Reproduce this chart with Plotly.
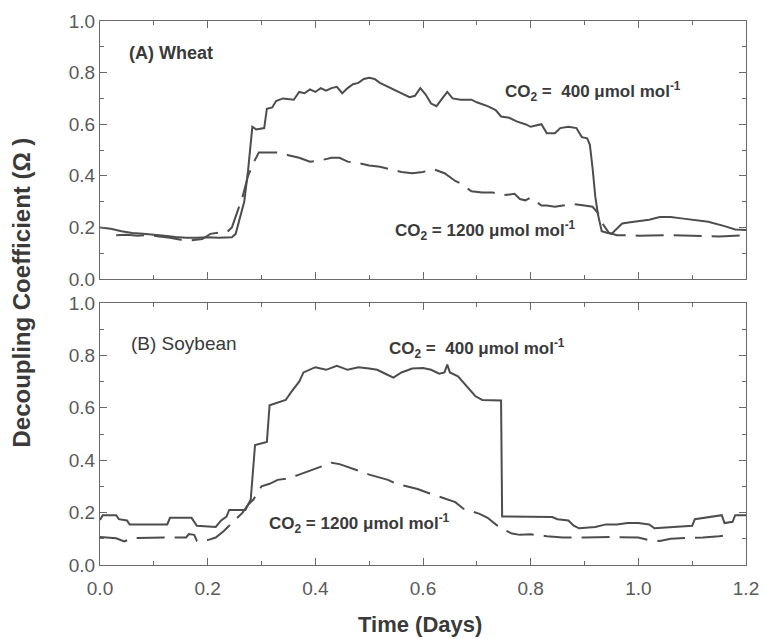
import plotly.graph_objects as go

# ---- Wheat, CO2 = 400 umol/mol (solid) ----
wheat_400_t = [0.00, 0.02, 0.04, 0.06, 0.08, 0.10, 0.12, 0.14, 0.16, 0.18, 0.20, 0.22, 0.245,
               0.252, 0.26, 0.268, 0.275, 0.283, 0.29, 0.305, 0.31, 0.32, 0.327, 0.34, 0.36,
               0.37, 0.38, 0.39, 0.40, 0.41, 0.42, 0.43, 0.44, 0.45, 0.46, 0.47, 0.48, 0.49,
               0.50, 0.51, 0.52, 0.54, 0.56, 0.575, 0.585, 0.595, 0.605, 0.615, 0.625, 0.635,
               0.645, 0.655, 0.67, 0.69, 0.70, 0.72, 0.735, 0.745, 0.76, 0.775, 0.79, 0.80,
               0.81, 0.82, 0.83, 0.845, 0.855, 0.87, 0.885, 0.89, 0.895, 0.905, 0.91, 0.915,
               0.92, 0.925, 0.932, 0.94, 0.95, 0.96, 0.97, 0.985, 1.00, 1.02, 1.04, 1.06,
               1.08, 1.10, 1.13, 1.16, 1.18, 1.20]
wheat_400_v = [0.200, 0.195, 0.185, 0.178, 0.175, 0.172, 0.168, 0.163, 0.160, 0.160, 0.162,
               0.160, 0.162, 0.175, 0.24, 0.30, 0.42, 0.59, 0.58, 0.585, 0.66, 0.665, 0.69,
               0.70, 0.695, 0.725, 0.72, 0.735, 0.725, 0.74, 0.73, 0.74, 0.745, 0.72, 0.74,
               0.755, 0.76, 0.775, 0.78, 0.775, 0.76, 0.74, 0.72, 0.705, 0.71, 0.74, 0.715,
               0.68, 0.67, 0.70, 0.725, 0.70, 0.695, 0.695, 0.685, 0.67, 0.655, 0.63, 0.625,
               0.61, 0.60, 0.59, 0.595, 0.60, 0.565, 0.565, 0.585, 0.59, 0.585, 0.565, 0.55,
               0.545, 0.52, 0.43, 0.32, 0.25, 0.185, 0.18, 0.175, 0.195, 0.215, 0.22, 0.225,
               0.23, 0.24, 0.24, 0.235, 0.23, 0.222, 0.205, 0.192, 0.19]

# ---- Wheat, CO2 = 1200 umol/mol (dashed) ----
wheat_1200_t = [0.03, 0.05, 0.07, 0.09, 0.11, 0.13, 0.15, 0.17, 0.19, 0.20, 0.205, 0.222,
                0.235, 0.245, 0.255, 0.265, 0.275, 0.285, 0.295, 0.31, 0.33, 0.35, 0.37,
                0.39, 0.41, 0.43, 0.445, 0.46, 0.48, 0.50, 0.52, 0.54, 0.56, 0.58, 0.60,
                0.62, 0.64, 0.66, 0.67, 0.69, 0.71, 0.73, 0.75, 0.77, 0.78, 0.79, 0.80,
                0.81, 0.82, 0.83, 0.845, 0.86, 0.88, 0.90, 0.915, 0.925, 0.935, 0.945,
                0.96, 0.98, 1.00, 1.05, 1.10, 1.15, 1.20]
wheat_1200_v = [0.170, 0.172, 0.168, 0.170, 0.165, 0.160, 0.152, 0.150, 0.155, 0.170, 0.175,
                0.180, 0.180, 0.20, 0.26, 0.32, 0.40, 0.45, 0.49, 0.49, 0.49, 0.48, 0.47,
                0.455, 0.46, 0.47, 0.47, 0.455, 0.45, 0.44, 0.435, 0.425, 0.415, 0.41, 0.415,
                0.425, 0.41, 0.38, 0.37, 0.34, 0.335, 0.335, 0.325, 0.33, 0.31, 0.305, 0.315,
                0.30, 0.285, 0.285, 0.28, 0.285, 0.29, 0.285, 0.28, 0.255, 0.21, 0.18, 0.17,
                0.17, 0.168, 0.17, 0.168, 0.165, 0.17]

# ---- Soybean, CO2 = 400 umol/mol (solid) ----
soy_400_t = [0.00, 0.005, 0.03, 0.035, 0.05, 0.055, 0.125, 0.13, 0.17, 0.18, 0.215, 0.225,
             0.235, 0.24, 0.27, 0.28, 0.288, 0.30, 0.31, 0.315, 0.33, 0.345, 0.355, 0.37,
             0.378, 0.39, 0.40, 0.42, 0.44, 0.46, 0.48, 0.50, 0.515, 0.53, 0.545, 0.56, 0.58,
             0.60, 0.615, 0.63, 0.64, 0.645, 0.65, 0.665, 0.68, 0.697, 0.71, 0.745, 0.747,
             0.84, 0.85, 0.87, 0.88, 0.89, 0.92, 0.94, 0.96, 0.98, 1.00, 1.02, 1.03, 1.06,
             1.10, 1.105, 1.14, 1.155, 1.16, 1.175, 1.18, 1.20]
soy_400_v = [0.172, 0.19, 0.19, 0.175, 0.17, 0.155, 0.155, 0.18, 0.18, 0.15, 0.145, 0.17,
             0.185, 0.21, 0.21, 0.25, 0.458, 0.465, 0.47, 0.61, 0.62, 0.63, 0.66, 0.70,
             0.735, 0.745, 0.755, 0.745, 0.76, 0.745, 0.755, 0.75, 0.745, 0.73, 0.715, 0.735,
             0.75, 0.752, 0.745, 0.73, 0.735, 0.765, 0.735, 0.72, 0.685, 0.645, 0.63, 0.628,
             0.185, 0.183, 0.175, 0.17, 0.15, 0.14, 0.145, 0.155, 0.155, 0.16, 0.16, 0.155,
             0.14, 0.145, 0.15, 0.175, 0.185, 0.19, 0.16, 0.165, 0.19, 0.19]

# ---- Soybean, CO2 = 1200 umol/mol (dashed) ----
soy_1200_t = [0.00, 0.03, 0.045, 0.06, 0.12, 0.16, 0.165, 0.175, 0.18, 0.20, 0.215, 0.23,
              0.245, 0.265, 0.275, 0.285, 0.30, 0.315, 0.33, 0.35, 0.37, 0.39, 0.41, 0.43,
              0.445, 0.46, 0.48, 0.50, 0.52, 0.535, 0.55, 0.57, 0.59, 0.61, 0.625, 0.64,
              0.66, 0.675, 0.69, 0.705, 0.72, 0.735, 0.75, 0.765, 0.78, 0.80, 0.83, 0.86,
              0.90, 0.95, 1.00, 1.02, 1.04, 1.06, 1.09, 1.12, 1.15, 1.17]
soy_1200_v = [0.107, 0.102, 0.09, 0.103, 0.105, 0.105, 0.118, 0.115, 0.092, 0.095, 0.105,
              0.13, 0.16, 0.20, 0.23, 0.25, 0.30, 0.31, 0.325, 0.33, 0.345, 0.36, 0.375,
              0.39, 0.385, 0.375, 0.36, 0.345, 0.335, 0.325, 0.31, 0.30, 0.29, 0.275, 0.265,
              0.255, 0.24, 0.215, 0.205, 0.195, 0.18, 0.155, 0.135, 0.12, 0.115, 0.117, 0.11,
              0.105, 0.105, 0.107, 0.105, 0.095, 0.092, 0.10, 0.103, 0.105, 0.11, 0.115]

x_ticks = [0.0, 0.2, 0.4, 0.6, 0.8, 1.0, 1.2]
x_tick_text = ["0.0", "0.2", "0.4", "0.6", "0.8", "1.0", "1.2"]
y_ticks = [0.0, 0.2, 0.4, 0.6, 0.8, 1.0]
y_tick_text = ["0.0", "0.2", "0.4", "0.6", "0.8", "1.0"]

LINE_COLOR = "#4d4d4d"
AXIS_COLOR = "#6a6a6a"
TICK_FONT_COLOR = "#5a5a5a"
TEXT_COLOR = "#3a3a3a"
FONT = "Liberation Sans, Arial, sans-serif"
DASH = "28px,10px"

fig = go.Figure()

fig.add_trace(go.Scatter(x=wheat_400_t, y=wheat_400_v, mode="lines",
                         line=dict(color=LINE_COLOR, width=2), xaxis="x", yaxis="y"))
fig.add_trace(go.Scatter(x=wheat_1200_t, y=wheat_1200_v, mode="lines",
                         line=dict(color=LINE_COLOR, width=2, dash=DASH), xaxis="x", yaxis="y"))
fig.add_trace(go.Scatter(x=soy_400_t, y=soy_400_v, mode="lines",
                         line=dict(color=LINE_COLOR, width=2), xaxis="x2", yaxis="y2"))
fig.add_trace(go.Scatter(x=soy_1200_t, y=soy_1200_v, mode="lines",
                         line=dict(color=LINE_COLOR, width=2, dash=DASH), xaxis="x2", yaxis="y2"))

common_x = dict(range=[0, 1.2], tickvals=x_ticks, ticktext=x_tick_text,
                showline=True, linecolor=AXIS_COLOR, linewidth=1.3, mirror="ticks",
                ticks="inside", ticklen=7, tickwidth=1, tickcolor=AXIS_COLOR,
                minor=dict(ticks="inside", dtick=0.1, tick0=0, ticklen=4,
                           tickcolor=AXIS_COLOR, showgrid=False),
                showgrid=False, zeroline=False, ticklabelstandoff=6,
                ticklabeloverflow="allow", automargin=False,
                tickfont=dict(family=FONT, size=19, color=TICK_FONT_COLOR))
common_y = dict(range=[0, 1.0], tickvals=y_ticks, ticktext=y_tick_text,
                showline=True, linecolor=AXIS_COLOR, linewidth=1.3, mirror="ticks",
                ticks="inside", ticklen=7, tickwidth=1, tickcolor=AXIS_COLOR,
                minor=dict(ticks="inside", dtick=0.1, tick0=0, ticklen=4,
                           tickcolor=AXIS_COLOR, showgrid=False),
                showgrid=False, zeroline=False, automargin=False,
                tickfont=dict(family=FONT, size=19, color=TICK_FONT_COLOR))

fig.update_layout(
    width=763, height=639,
    margin=dict(l=100, r=17, t=21, b=74),
    paper_bgcolor="white", plot_bgcolor="white",
    showlegend=False,
    font=dict(family=FONT, color=TEXT_COLOR),
    xaxis=dict(common_x, domain=[0, 1], anchor="y", showticklabels=False),
    yaxis=dict(common_y, domain=[0.5257, 1.0], anchor="x"),
    xaxis2=dict(common_x, domain=[0, 1], anchor="y2"),
    yaxis2=dict(common_y, domain=[0.0, 0.4816], anchor="x2"),
)

label_font = dict(family=FONT, size=17, color=TEXT_COLOR)
annotations = [
    dict(x=0.05, y=0.876, xref="x", yref="y", text="<b>(A) Wheat</b>",
         xanchor="left", yanchor="middle", showarrow=False,
         font=dict(family=FONT, size=18, color=TEXT_COLOR)),
    dict(x=0.748, y=0.725, xref="x", yref="y",
         text="<b>CO<sub>2</sub> =  400 μmol mol<sup>-1</sup></b>",
         xanchor="left", yanchor="middle", showarrow=False, font=label_font),
    dict(x=0.545, y=0.19, xref="x", yref="y",
         text="<b>CO<sub>2</sub> = 1200 μmol mol<sup>-1</sup></b>",
         xanchor="left", yanchor="middle", showarrow=False, font=label_font),
    dict(x=0.053, y=0.847, xref="x2", yref="y2", text="(B) Soybean",
         xanchor="left", yanchor="middle", showarrow=False,
         font=dict(family=FONT, size=19, color=TEXT_COLOR)),
    dict(x=0.533, y=0.828, xref="x2", yref="y2",
         text="<b>CO<sub>2</sub> =  400 μmol mol<sup>-1</sup></b>",
         xanchor="left", yanchor="middle", showarrow=False, font=label_font),
    dict(x=0.31, y=0.16, xref="x2", yref="y2",
         text="<b>CO<sub>2</sub> = 1200 μmol mol<sup>-1</sup></b>",
         xanchor="left", yanchor="middle", showarrow=False, font=label_font),
    dict(x=-0.123, y=0.50, xref="paper", yref="paper",
         text="<b>Decoupling Coefficient (Ω )</b>", textangle=-90,
         xanchor="center", yanchor="middle", showarrow=False,
         font=dict(family=FONT, size=24, color=TEXT_COLOR)),
    dict(x=0.495, y=-0.11, xref="paper", yref="paper", text="<b>Time (Days)</b>",
         xanchor="center", yanchor="middle", showarrow=False,
         font=dict(family=FONT, size=22, color=TEXT_COLOR)),
]
fig.update_layout(annotations=annotations)

fig.write_html("out.html")
